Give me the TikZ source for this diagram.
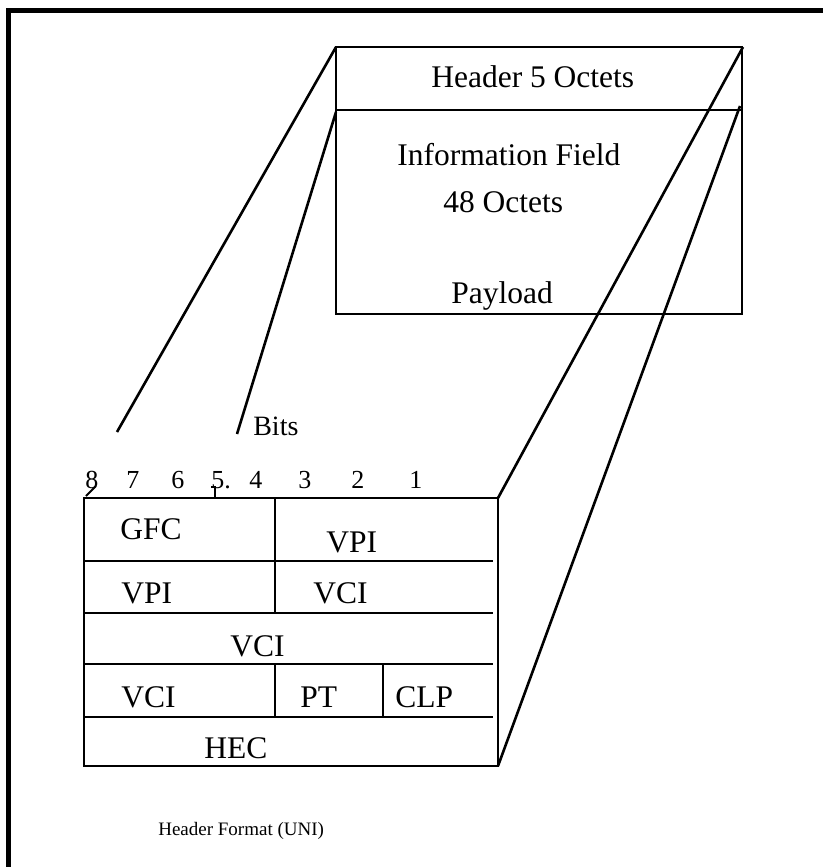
\documentclass[tikz,border=0pt]{standalone}
\usepackage{fontspec}
\setmainfont{Liberation Serif}
\begin{document}
\begin{tikzpicture}[x=1pt, y=-1pt, line width=2.6pt,
	field/.style={font=\fontsize{31.5}{36}\selectfont, inner sep=0pt, anchor=base west},
	bitnum/.style={font=\fontsize{26}{30}\selectfont, inner sep=0pt, anchor=base west},
	caption/.style={font=\fontsize{19}{22}\selectfont, inner sep=0pt, anchor=base west}]
	\useasboundingbox (0,0) rectangle (822,867);
	%frame
	\draw[line width=5pt] (8.5,880) -- (8.5,10.5) -- (840,10.5);
	%cell
	\coordinate (cell nw) at (336,47);
	\coordinate (cell ne) at (742,47);
	\coordinate (cell hw) at (336,110);
	\coordinate (cell he) at (742,110);
	\coordinate (cell se) at (742,314);
	\draw (cell nw) rectangle (cell se);
	\draw (cell hw) -- (cell he);
	\node[field] (header) at (430,88) {Header 5 Octets};
	\node[field] (info) at (396,165) {Information Field};
	\node[field] (octets) at (442,212) {48 Octets};
	\node[field] (payload) at (450,303) {Payload};
	%header format
	\coordinate (fmt nw) at (84,498);
	\coordinate (fmt ne) at (498,498);
	\coordinate (fmt sw) at (84,766);
	\coordinate (fmt se) at (498,766);
	\draw (fmt ne) -- (fmt nw) -- (fmt sw) -- (fmt se) -- (fmt ne);
	\foreach \y in {561,613,664,717}
		\draw (84,\y) -- (493,\y);
	\draw (275,498) -- (275,613);
	\draw (275,664) -- (275,717);
	\draw (383,664) -- (383,717);
	\node[field] (gfc) at (119,539) {GFC};
	\node[field] (vpi a) at (325,552) {VPI};
	\node[field] (vpi b) at (120,603) {VPI};
	\node[field] (vci a) at (312,603) {VCI};
	\node[field] (vci b) at (229,656) {VCI};
	\node[field] (vci c) at (120,707) {VCI};
	\node[field] (pt) at (299,707) {PT};
	\node[field] (clp) at (394,707) {CLP};
	\node[field] (hec) at (203,758) {HEC};
	%bits
	\foreach \x/\bit in {84/8, 125/7, 170/6, 210/5., 248/4, 297/3, 350/2, 408/1}
		\node[bitnum] (bit \bit) at (\x,488) {\bit};
	\draw[line width=2pt] (86,496) -- (96,486);
	\draw[line width=2pt] (211,487) -- (216,487) (215,487) -- (215,498);
	\coordinate (bits a) at (117,432);
	\coordinate (bits b) at (237,434);
	\node[field, font=\fontsize{28}{32}\selectfont] (bits) at (252,435) {Bits};
	%links
	\draw (cell nw) -- (bits a);
	\draw (336,112) -- (bits b);
	\draw (743,47) -- (fmt ne);
	\draw (740,106) -- (fmt se);
	%labels
	\node[caption] (title) at (157,835) {Header Format (UNI)};
\end{tikzpicture}
\end{document}
